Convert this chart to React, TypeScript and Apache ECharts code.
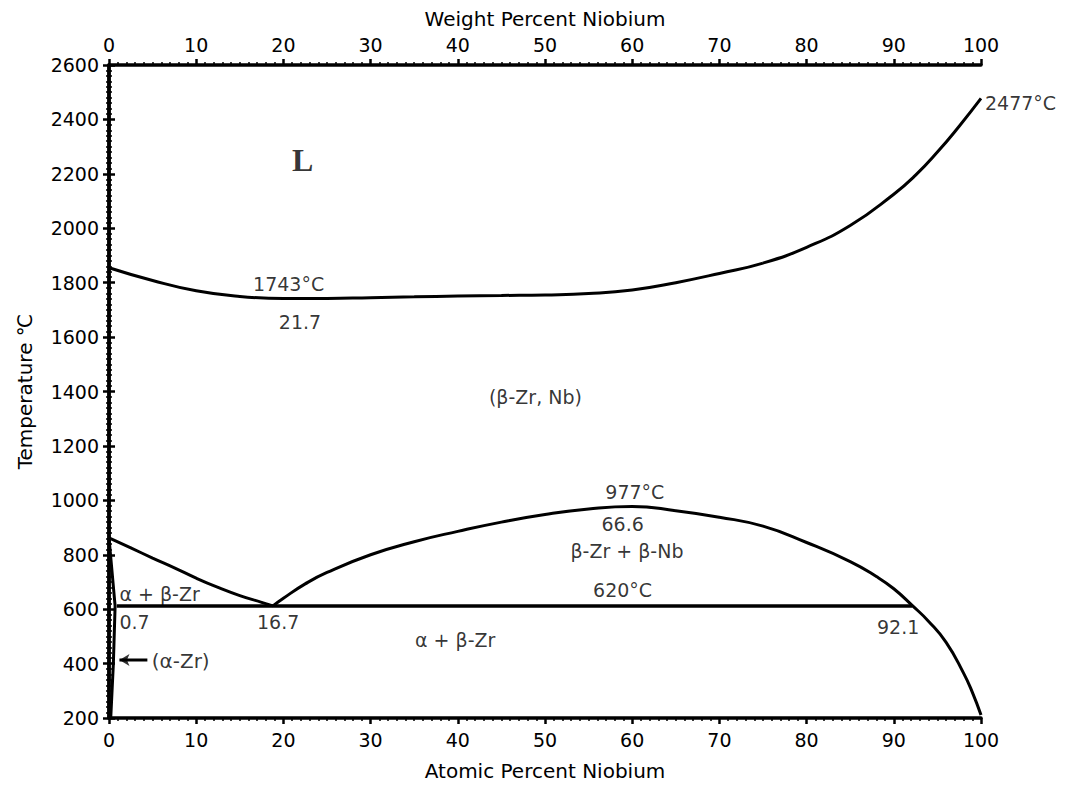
import React, { useEffect, useRef } from "react";
import * as echarts from "echarts";

// Axis ticks
const xTicks = [0, 10, 20, 30, 40, 50, 60, 70, 80, 90, 100];
const tempTicks = [200, 400, 600, 800, 1000, 1200, 1400, 1600, 1800, 2000, 2200, 2400, 2600];

// Phase boundaries: [at.% Nb, temperature °C]
const liquidus: number[][] = [
  [0, 1855], [5, 1808], [10, 1770], [15, 1749], [20, 1742], [25, 1742], [30, 1745],
  [35, 1748], [40, 1751], [45, 1753], [50, 1755], [55, 1760], [60, 1773], [65, 1800],
  [70, 1834], [75, 1872], [80, 1930], [85, 2010], [90, 2125], [92.5, 2195],
  [95, 2280], [97.5, 2375], [100, 2477],
];
const betaTransus: number[][] = [
  [0, 862], [2.5, 825], [5, 788], [7.5, 752], [10, 714], [12.5, 680], [15, 650],
  [17.5, 625], [18.8, 612],
];
const miscibilityGap: number[][] = [
  [18.8, 612], [20, 640], [22.5, 693], [25, 735], [30, 800], [35, 848], [40, 886],
  [45, 920], [50, 948], [55, 968], [60, 977], [65, 962], [70, 938], [75, 905],
  [80, 845], [85, 775], [88, 720], [90, 675], [92.1, 614], [94, 555], [96, 478],
  [98, 365], [99, 295], [100, 211],
];
const eutectoid: number[][] = [[0.9, 612], [92.1, 612]];
const alphaSolvus: number[][] = [[0, 862], [0.7, 612], [0.5, 400], [0.2, 200]];
const alphaArrow: number[][] = [[4.4, 413], [1.2, 413]];

// Text annotations: [at.% Nb, temperature, text]
const centeredLabels: [number, number, string][] = [
  [20.6, 1795, "1743°C"],
  [21.9, 1656, "21.7"],
  [48.9, 1380, "(β-Zr, Nb)"],
  [60.3, 1031, "977°C"],
  [58.9, 913, "66.6"],
  [59.4, 814, "β-Zr + β-Nb"],
  [58.9, 671, "620°C"],
  [19.4, 553, "16.7"],
  [90.5, 535, "92.1"],
  [39.7, 487, "α + β-Zr"],
];
const leftLabels: [number, number, string][] = [
  [1.2, 656, "α + β-Zr"],
  [1.2, 553, "0.7"],
];
const alphaLabel: [number, number, string] = [4.9, 410, "(α-Zr)"];
const phaseL: [number, number, string] = [22.2, 2251, "L"];
const nbMelting: [number, number, string] = [100, 2460, "2477°C"];

const FONT = "DejaVu Sans";
const INK = "#000";

export default function App() {
  const ref = useRef<HTMLDivElement>(null);
  useEffect(() => {
    if (!ref.current) return;
    const chart = echarts.init(ref.current, undefined, { renderer: "svg" });
    const axisLine = { show: true, lineStyle: { color: INK, width: 3.5 } };
    const axisTick = { show: true, length: 6, lineStyle: { color: INK, width: 2.5 } };
    const minorTick = { show: true, splitNumber: 10, length: 3, lineStyle: { color: INK, width: 1.5 } };
    const xCommon = {
      type: "value" as const,
      min: xTicks[0],
      max: xTicks[xTicks.length - 1],
      interval: 10,
      splitLine: { show: false },
      axisLine,
      axisTick,
      minorTick,
      nameLocation: "middle" as const,
      nameTextStyle: { fontFamily: FONT, fontSize: 20, color: INK },
    };
    const yCommon = {
      type: "value" as const,
      min: tempTicks[0],
      max: tempTicks[tempTicks.length - 1],
      interval: 200,
      splitLine: { show: false },
      axisLine,
      axisTick,
      minorTick,
    };
    const lineStyle = { color: INK, width: 3 };
    const baseLine = {
      type: "line" as const,
      showSymbol: false,
      symbol: "none",
      lineStyle,
      silent: true,
      z: 3,
    };
    const labelItem = (d: [number, number, string], extra: any = {}) => ({
      value: [d[0], d[1]],
      name: d[2],
      label: extra,
    });
    const option: any = {
      animation: false,
      backgroundColor: "#fff",
      grid: {
        left: 109,
        right: 91,
        top: 65,
        bottom: 67,
        containLabel: false,
        outerBoundsMode: "none",
      },
      xAxis: [
        {
          ...xCommon,
          position: "bottom",
          name: "Atomic Percent Niobium",
          nameGap: 43,
          axisLabel: { fontFamily: FONT, fontSize: 19, color: INK, margin: 12 },
        },
        {
          ...xCommon,
          position: "top",
          name: "Weight Percent Niobium",
          nameGap: 36,
          axisLabel: { fontFamily: FONT, fontSize: 19, color: INK, margin: 11 },
        },
      ],
      yAxis: [
        {
          ...yCommon,
          position: "left",
          name: "Temperature ℃",
          nameLocation: "middle",
          nameGap: 74,
          nameTextStyle: { fontFamily: FONT, fontSize: 20, color: INK },
          axisLabel: {
            fontFamily: FONT,
            fontSize: 19,
            color: INK,
            margin: 10,
            formatter: (v: number) => String(v),
          },
        },
        {
          ...yCommon,
          position: "right",
          axisLabel: { show: false },
        },
      ],
      series: [
        { ...baseLine, data: liquidus, smooth: true },
        { ...baseLine, data: betaTransus, smooth: true },
        { ...baseLine, data: miscibilityGap, smooth: true },
        { ...baseLine, data: eutectoid, lineStyle: { color: INK, width: 3.5 } },
        { ...baseLine, data: alphaSolvus, lineStyle: { color: INK, width: 3 } },
        {
          ...baseLine,
          data: alphaArrow,
          lineStyle: { color: INK, width: 3 },
        },
        {
          type: "scatter",
          silent: true,
          data: [alphaArrow[1]],
          symbol: "arrow",
          symbolRotate: 90,
          symbolSize: [9, 10],
          itemStyle: { color: INK },
          z: 4,
        },
        {
          type: "scatter",
          silent: true,
          clip: false,
          symbolSize: 0,
          z: 5,
          label: {
            show: true,
            position: "inside",
            formatter: (p: any) => p.name,
            fontFamily: FONT,
            fontSize: 19,
            color: INK,
            align: "center",
            verticalAlign: "middle",
          },
          data: [
            ...centeredLabels.map((d) => labelItem(d)),
            ...leftLabels.map((d) => labelItem(d, { align: "left" })),
            labelItem(alphaLabel, { align: "left", fontSize: 20 }),
            labelItem(phaseL, {
              fontFamily: "Liberation Serif",
              fontWeight: "bold",
              fontSize: 32,
            }),
            labelItem(nbMelting, { align: "left", offset: [4, 0] }),
          ],
        },
      ],
    };
    chart.setOption(option);
    return () => chart.dispose();
  }, []);
  return (
    <div
      ref={ref}
      style={{ position: "absolute", left: 0, top: 0, width: 1072, height: 785 }}
    />
  );
}
